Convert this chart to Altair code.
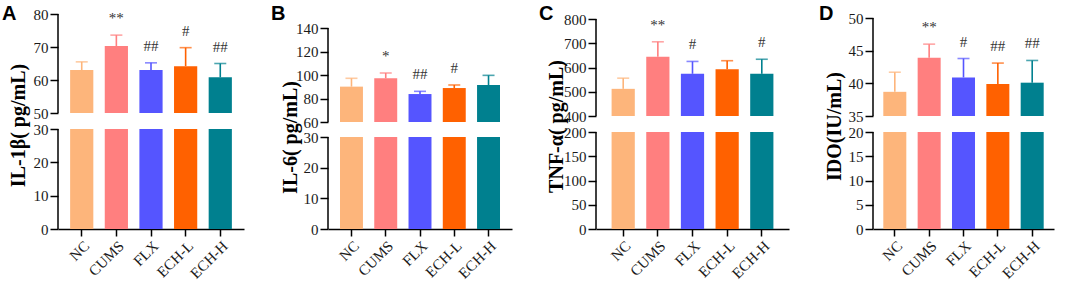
import altair as alt
import pandas as pd

groups = ["NC", "CUMS", "FLX", "ECH-L", "ECH-H"]
bar_colors = ["#FDB57B", "#FF7F7F", "#5555FF", "#FF6100", "#00808F"]

il1b_mean = [63.0, 70.3, 63.0, 64.2, 60.8]
il1b_err = [2.5, 3.3, 2.2, 5.6, 4.2]
il1b_sig = ["", "**", "##", "#", "##"]

il6_mean = [90.1, 97.2, 83.8, 88.9, 91.5]
il6_err = [7.1, 4.5, 2.3, 2.6, 8.2]
il6_sig = ["", "*", "##", "#", ""]

tnf_mean = [512, 644, 574, 593, 574]
tnf_err = [44, 62, 51, 35, 60]
tnf_sig = ["", "**", "#", "", "#"]

ido_mean = [38.7, 43.9, 40.9, 39.9, 40.1]
ido_err = [3.0, 2.1, 2.9, 3.2, 3.4]
ido_sig = ["", "**", "#", "##", "##"]

# broken axis: [lower start, lower end, upper start, upper end]
il1b_break = [0, 30, 50, 80]
il6_break = [0, 30, 60, 140]
tnf_break = [0, 200, 400, 800]
ido_break = [0, 20, 35, 50]

il1b_ticks = [0, 10, 20, 30, 50, 60, 70, 80]
il6_ticks = [0, 10, 20, 30, 60, 80, 100, 120, 140]
tnf_ticks = [0, 50, 100, 150, 200, 400, 500, 600, 700, 800]
ido_ticks = [0, 5, 10, 15, 20, 35, 40, 45, 50]

titles = ["IL-1β( pg/mL)", "IL-6( pg/mL)", "TNF-α( pg/mL)", "IDO(IU/mL)"]
letters = ["A", "B", "C", "D"]

H = 216
SERIF = "Liberation Serif"


def panel(letter, ytitle, mean, err, sig, brk, ticks, yrange, width,
          title_x, title_y, pad_outer, letter_dx):
    df = pd.DataFrame({"group": groups, "mean": mean, "err": err, "sig": sig})
    df["top"] = df["mean"] + df["err"]
    df["base0"] = brk[0]
    df["low_top"] = brk[1]
    df["up_base"] = brk[2]
    segs = pd.DataFrame({"s": [brk[0], brk[2]], "e": [brk[1], brk[3]]})
    lab = pd.DataFrame({"letter": [letter]})

    yscale = alt.Scale(domain=brk, range=yrange, nice=False, zero=False)
    yaxis = alt.Axis(values=ticks, domain=False, title=ytitle,
                     titleX=title_x, titleY=title_y, titleBaseline="alphabetic")
    xenc = alt.X("group:N", sort=groups, title=None,
                 scale=alt.Scale(paddingInner=0.33, paddingOuter=pad_outer),
                 axis=alt.Axis(title=None, labelAngle=-45, domain=True,
                               ticks=True))
    color = alt.Color("group:N", scale=alt.Scale(domain=groups, range=bar_colors),
                      legend=None)
    base = alt.Chart(df).encode(x=xenc)

    def Y(field):
        return alt.Y(field, scale=yscale, axis=yaxis, title=ytitle)

    lower = base.mark_bar().encode(y=Y("low_top:Q"), y2="base0:Q", color=color)
    upper = base.mark_bar().encode(y=Y("mean:Q"), y2="up_base:Q", color=color)
    errbar = base.mark_rule(strokeWidth=1.6).encode(
        y=Y("mean:Q"), y2="top:Q", color=color)
    cap = base.mark_tick(size=12, thickness=1.6).encode(y=Y("top:Q"), color=color)
    text = base.mark_text(dy=-12, baseline="alphabetic", font=SERIF,
                          fontSize=15, color="#333333").encode(
        y=Y("top:Q"), text="sig:N")
    axisline = alt.Chart(segs).mark_rule(color="black", strokeWidth=1.5).encode(
        y=Y("s:Q"), y2="e:Q", x=alt.value(0))
    label = alt.Chart(lab).mark_text(
        font="Liberation Sans", fontSize=20, fontWeight="bold", color="black",
        align="left", baseline="alphabetic").encode(
        text="letter:N", x=alt.value(letter_dx), y=alt.value(6.5))

    return alt.layer(lower, upper, errbar, cap, text, axisline, label).properties(
        width=width, height=H)


pA = panel("A", titles[0], il1b_mean, il1b_err, il1b_sig, il1b_break, il1b_ticks,
           [216, 116, 100, 1], 186, -34, 112, 0.35, -56)
pB = panel("B", titles[1], il6_mean, il6_err, il6_sig, il6_break, il6_ticks,
           [216, 124, 109, 15], 184, -32, 124, 0.35, -57)
pC = panel("C", titles[2], tnf_mean, tnf_err, tnf_sig, tnf_break, tnf_ticks,
           [216, 119, 103, 6], 193, -34, 113, 0.45, -57)
pD = panel("D", titles[3], ido_mean, ido_err, ido_sig, ido_break, ido_ticks,
           [216, 119, 103, 5], 181, -33, 113, 0.3, -54)

chart = alt.hconcat(pA, pB, pC, pD, spacing=84, bounds="flush").properties(
    padding={"left": 2, "top": 3, "right": 2, "bottom": 2}
).configure_view(stroke=None).configure_axis(
    domainColor="black", domainWidth=1.5, tickColor="black", tickWidth=1.5,
    tickSize=8, labelFont=SERIF, labelFontSize=15, labelColor="#1a1a1a",
    titleFont=SERIF, titleFontSize=20, titleFontWeight="bold",
    titleColor="black", grid=False, labelPadding=2
).configure_axisX(labelFontSize=15, labelPadding=2, tickSize=7)

chart.save("out.html", embed_options={"renderer": "svg", "actions": False})
